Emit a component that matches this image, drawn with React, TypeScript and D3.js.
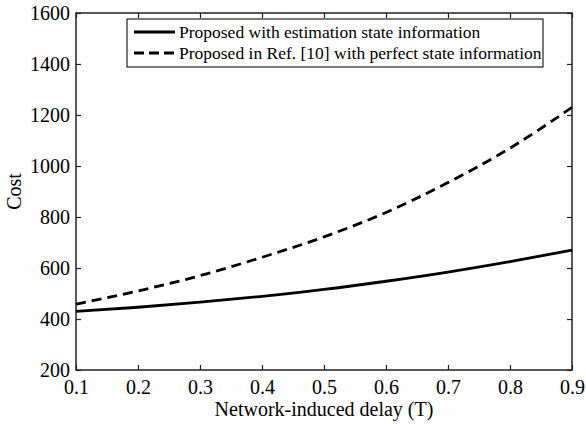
import React, { useEffect, useRef } from "react";
import * as d3 from "d3";

const delays = [0.1, 0.2, 0.3, 0.4, 0.5, 0.6, 0.7, 0.8, 0.9];
const estimatedCost = [430, 446, 466, 489, 516, 548, 584, 625, 670];
const perfectCost = [458, 510, 570, 642, 722, 818, 935, 1070, 1230];
const xTicks = [0.1, 0.2, 0.3, 0.4, 0.5, 0.6, 0.7, 0.8, 0.9];
const yTicks = [200, 400, 600, 800, 1000, 1200, 1400, 1600];
const legendLabels = [
  "Proposed with estimation state information",
  "Proposed in Ref. [10] with perfect state information",
];

export default function App() {
  const ref = useRef<SVGSVGElement>(null);

  useEffect(() => {
    const svg = d3.select(ref.current);
    svg.selectAll("*").remove();

    const margin = { top: 13, right: 14, bottom: 54, left: 76 };
    const width = 586;
    const height = 424;
    const w = width - margin.left - margin.right;
    const h = height - margin.top - margin.bottom;
    const font = "'Liberation Serif', 'Times New Roman', serif";

    const x = d3.scaleLinear().domain([0.1, 0.9]).range([0, w]);
    const y = d3.scaleLinear().domain([200, 1600]).range([h, 0]);

    const g = svg.append("g").attr("transform", `translate(${margin.left},${margin.top})`);

    // inward ticks on all four sides
    const bottom = g.append("g").attr("transform", `translate(0,${h})`)
      .call(d3.axisBottom(x).tickValues(xTicks).tickSizeInner(-5).tickSizeOuter(0).tickPadding(10).tickFormat(d3.format(".1f")));
    const left = g.append("g")
      .call(d3.axisLeft(y).tickValues(yTicks).tickSizeInner(-5).tickSizeOuter(0).tickPadding(6).tickFormat(d3.format("d")));
    const top = g.append("g")
      .call(d3.axisTop(x).tickValues(xTicks).tickSizeInner(-5).tickSizeOuter(0).tickFormat(() => ""));
    const right = g.append("g").attr("transform", `translate(${w},0)`)
      .call(d3.axisRight(y).tickValues(yTicks).tickSizeInner(-5).tickSizeOuter(0).tickFormat(() => ""));

    [bottom, left, top, right].forEach((a) => {
      a.attr("font-family", null).attr("font-size", null);
      a.select(".domain").remove();
      a.selectAll("line").attr("stroke", "#222").attr("stroke-width", 1.2);
      a.selectAll("text").style("font-family", font).style("font-size", "20px").attr("fill", "#000");
    });

    g.append("rect").attr("width", w).attr("height", h)
      .attr("fill", "none").attr("stroke", "#222").attr("stroke-width", 1.5);

    const line = d3.line<number>()
      .x((_, i) => x(delays[i]))
      .y((d) => y(d))
      .curve(d3.curveMonotoneX);

    g.append("path").datum(estimatedCost).attr("d", line)
      .attr("fill", "none").attr("stroke", "#000").attr("stroke-width", 2.8);
    g.append("path").datum(perfectCost).attr("d", line)
      .attr("fill", "none").attr("stroke", "#000").attr("stroke-width", 2.8)
      .attr("stroke-dasharray", "10,6");

    // legend
    const lg = g.append("g").attr("transform", "translate(51,6)");
    lg.append("rect").attr("width", 416).attr("height", 48)
      .attr("fill", "#fff").attr("stroke", "#222").attr("stroke-width", 1.2);
    legendLabels.forEach((label, i) => {
      const ly = 13 + i * 21;
      lg.append("line").attr("x1", 7).attr("x2", 48).attr("y1", ly).attr("y2", ly)
        .attr("stroke", "#000").attr("stroke-width", 2.8)
        .attr("stroke-dasharray", i === 1 ? "10,5" : null);
      lg.append("text").attr("x", 52).attr("y", ly + 6)
        .style("font-family", font).style("font-size", "17.5px").attr("fill", "#000").text(label);
    });

    svg.append("text").attr("x", margin.left + w / 2).attr("y", 416)
      .attr("text-anchor", "middle").style("font-family", font).style("font-size", "20px")
      .attr("fill", "#000").text("Network-induced delay (T)");
    svg.append("text").attr("transform", `translate(21,${margin.top + h / 2}) rotate(-90)`)
      .attr("text-anchor", "middle").style("font-family", font).style("font-size", "20px")
      .attr("fill", "#000").text("Cost");
  }, []);

  return (
    <svg ref={ref} width={586} height={424}
      style={{ position: "absolute", left: 0, top: 0, background: "#fdfdfd" }} />
  );
}
